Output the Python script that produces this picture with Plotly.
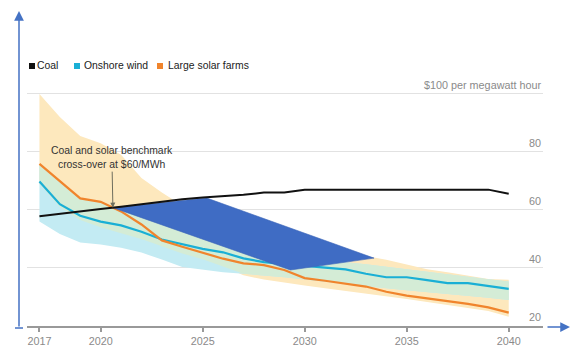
import numpy as np
import plotly.graph_objects as go

# ---------------- data ----------------
years = list(range(2017, 2041))

coal = [57.8, 58.7, 59.4, 60.3, 61.1, 62.0, 62.8, 63.7, 64.3, 64.8, 65.2, 66.0,
        66.0, 67.0, 67.0, 67.0, 67.0, 67.0, 67.0, 67.0, 67.0, 67.0, 67.0, 65.6]

onshore_wind = [69.8, 62.0, 58.0, 56.0, 54.7, 52.5, 49.8, 48.2, 46.6, 45.4, 43.3, 42.0,
                41.3, 40.7, 40.1, 39.5, 38.0, 36.8, 36.8, 35.8, 34.8, 34.8, 33.8, 32.8]

solar = [75.9, 70.0, 64.0, 62.8, 59.5, 55.0, 49.5, 47.3, 45.3, 43.2, 41.6, 41.0,
         39.3, 36.5, 35.6, 34.7, 33.6, 31.8, 30.5, 29.5, 28.6, 27.6, 26.4, 24.6]

solar_high = [100, 92.0, 85.5, 83.0, 79.0, 71.0, 66.0, 61.5, 58.0, 55.5, 53.0, 51.0,
              49.5, 48.0, 46.7, 45.4, 44.2, 42.8, 41.2, 39.6, 38.5, 37.3, 36.2, 35.9]
solar_low = [69.0, 61.0, 56.5, 54.0, 52.0, 50.0, 47.5, 45.0, 43.0, 40.5, 37.5, 36.0,
             35.0, 34.0, 33.0, 32.0, 31.0, 30.2, 29.3, 28.3, 27.3, 26.3, 25.2, 23.2]

wind_high = [75.5, 69.5, 64.0, 62.3, 60.5, 58.0, 55.0, 53.0, 51.0, 49.0, 47.5, 46.0,
             45.0, 44.0, 43.0, 42.0, 41.3, 40.4, 39.5, 38.7, 37.8, 37.0, 36.1, 35.3]
wind_low = [56.0, 51.7, 48.8, 48.1, 47.0, 45.3, 42.9, 40.3, 39.3, 38.5, 38.0, 37.5,
            36.8, 36.0, 35.2, 34.5, 33.7, 33.0, 32.3, 31.6, 31.0, 30.3, 29.7, 29.0]

# highlighted region (cross-over wedge)
wedge_years = [2020.6, 2025.2, 2033.4, 2029.3]
wedge_values = [60.8, 64.1, 43.4, 39.3]

x_ticks = [2017, 2020, 2025, 2030, 2035, 2040]
y_ticks = [20, 40, 60, 80, 100]
y_tick_text = ["20", "40", "60", "80", "$100 per megawatt hour"]

legend_names = ["Coal", "Onshore wind", "Large solar farms"]

# ---------------- styling ----------------
C_COAL = "#111111"
C_WIND = "#1aafd5"
C_SOLAR = "#f0842c"
C_SOLAR_BAND = "#fde8bd"
C_WIND_BAND = "#c3ebf3"
C_OVERLAP = "#d4ecd6"
C_WEDGE = "#3f6cc4"
C_DECOR = "#4472c4"
FONT = "Liberation Sans, Arial, sans-serif"

# plot area in pixels
L, R, T, B = 27, 543, 91, 326
W, H = R - L, B - T


def px(xp):
    return (xp - L) / W


def py(yp):
    return (B - yp) / H


def band(top, bot, color):
    return go.Scatter(x=years + years[::-1], y=list(top) + list(bot)[::-1],
                      fill="toself", fillcolor=color, mode="lines",
                      line=dict(width=0), hoverinfo="skip", showlegend=False)


ov_bot = np.maximum(solar_low, wind_low)
ov_top = np.maximum(np.minimum(solar_high, wind_high), ov_bot)

fig = go.Figure()
fig.add_trace(band(solar_high, solar_low, C_SOLAR_BAND))
fig.add_trace(band(wind_high, wind_low, C_WIND_BAND))
fig.add_trace(band(ov_top, ov_bot, C_OVERLAP))

fig.add_trace(go.Scatter(x=years, y=onshore_wind, mode="lines",
                         line=dict(color=C_WIND, width=2.2), showlegend=False))
fig.add_trace(go.Scatter(x=years, y=solar, mode="lines",
                         line=dict(color=C_SOLAR, width=2.2), showlegend=False))
fig.add_trace(go.Scatter(x=wedge_years + wedge_years[:1], y=wedge_values + wedge_values[:1],
                         fill="toself", fillcolor=C_WEDGE, mode="lines",
                         line=dict(color="#3a64b8", width=0.6), showlegend=False))
fig.add_trace(go.Scatter(x=years, y=coal, mode="lines",
                         line=dict(color=C_COAL, width=2), showlegend=False))

annotations = []
shapes = []

# custom legend (squares + labels)
legend_colors = [C_COAL, C_WIND, C_SOLAR]
sq_left = [29, 74, 157]
txt_left = [35, 82, 166]
for name, col, sx, tx in zip(legend_names, legend_colors, sq_left, txt_left):
    shapes.append(dict(type="rect", xref="paper", yref="paper",
                       x0=px(sx), x1=px(sx + 6), y0=py(69), y1=py(63),
                       fillcolor=col, line=dict(width=0)))
    annotations.append(dict(xref="paper", yref="paper", x=px(tx), y=py(66),
                            xanchor="left", yanchor="middle", showarrow=False,
                            text=name, font=dict(size=10.4, color="#222", family=FONT)))

# y-axis labels sitting above the grid lines, right aligned
for v, t in zip(y_ticks, y_tick_text):
    annotations.append(dict(xref="paper", yref="y", x=1.0, y=v, xanchor="right",
                            yanchor="bottom", yshift=1, showarrow=False, text=t,
                            font=dict(size=10.8, color="#8a8a8a", family=FONT)))

# cross-over annotation
annotations.append(dict(x=2020.6, y=60.8, xref="x", yref="y", ax=-1, ay=-50,
                        text="Coal and solar benchmark<br>cross-over at $60/MWh",
                        showarrow=True, arrowhead=2, arrowsize=1, arrowwidth=1,
                        arrowcolor="#6e6e5e", standoff=0,
                        font=dict(size=10.4, color="#333", family=FONT)))

# decorative blue axis arrows
annotations.append(dict(xref="paper", yref="paper", x=px(19), y=py(11), ax=0, ay=317,
                        text="", showarrow=True, arrowhead=2, arrowsize=1.3,
                        arrowwidth=1.5, arrowcolor=C_DECOR))
annotations.append(dict(xref="paper", yref="paper", x=px(570), y=py(327), ax=-24, ay=0,
                        text="", showarrow=True, arrowhead=2, arrowsize=1.3,
                        arrowwidth=1.5, arrowcolor=C_DECOR))
shapes.append(dict(type="line", xref="paper", yref="paper",
                   x0=px(15), x1=px(23), y0=py(328), y1=py(328),
                   line=dict(color=C_DECOR, width=1.5)))

fig.update_layout(
    width=571, height=360,
    margin=dict(l=L, r=571 - R, t=T, b=360 - B, pad=0),
    paper_bgcolor="white", plot_bgcolor="white",
    font=dict(family=FONT, size=10.8, color="#888"),
    showlegend=False,
    annotations=annotations, shapes=shapes,
    xaxis=dict(range=[2016.39, 2041.68], tickvals=x_ticks,
               ticktext=[str(v) for v in x_ticks],
               showgrid=False, zeroline=False, showline=True,
               linecolor="#999", linewidth=1.5, ticks="outside",
               ticklen=4, tickwidth=1.5, tickcolor="#999",
               tickfont=dict(size=10.8, color="#8a8a8a")),
    yaxis=dict(range=[20, 101], tickvals=y_ticks,
               showticklabels=False,
               showgrid=True, gridcolor="#e2e2e2", gridwidth=1,
               zeroline=False, showline=False, ticks=""),
)

fig.write_html("out.html", config={"displayModeBar": False},
               post_script="document.body.style.margin='0';document.body.style.overflow='hidden';")
